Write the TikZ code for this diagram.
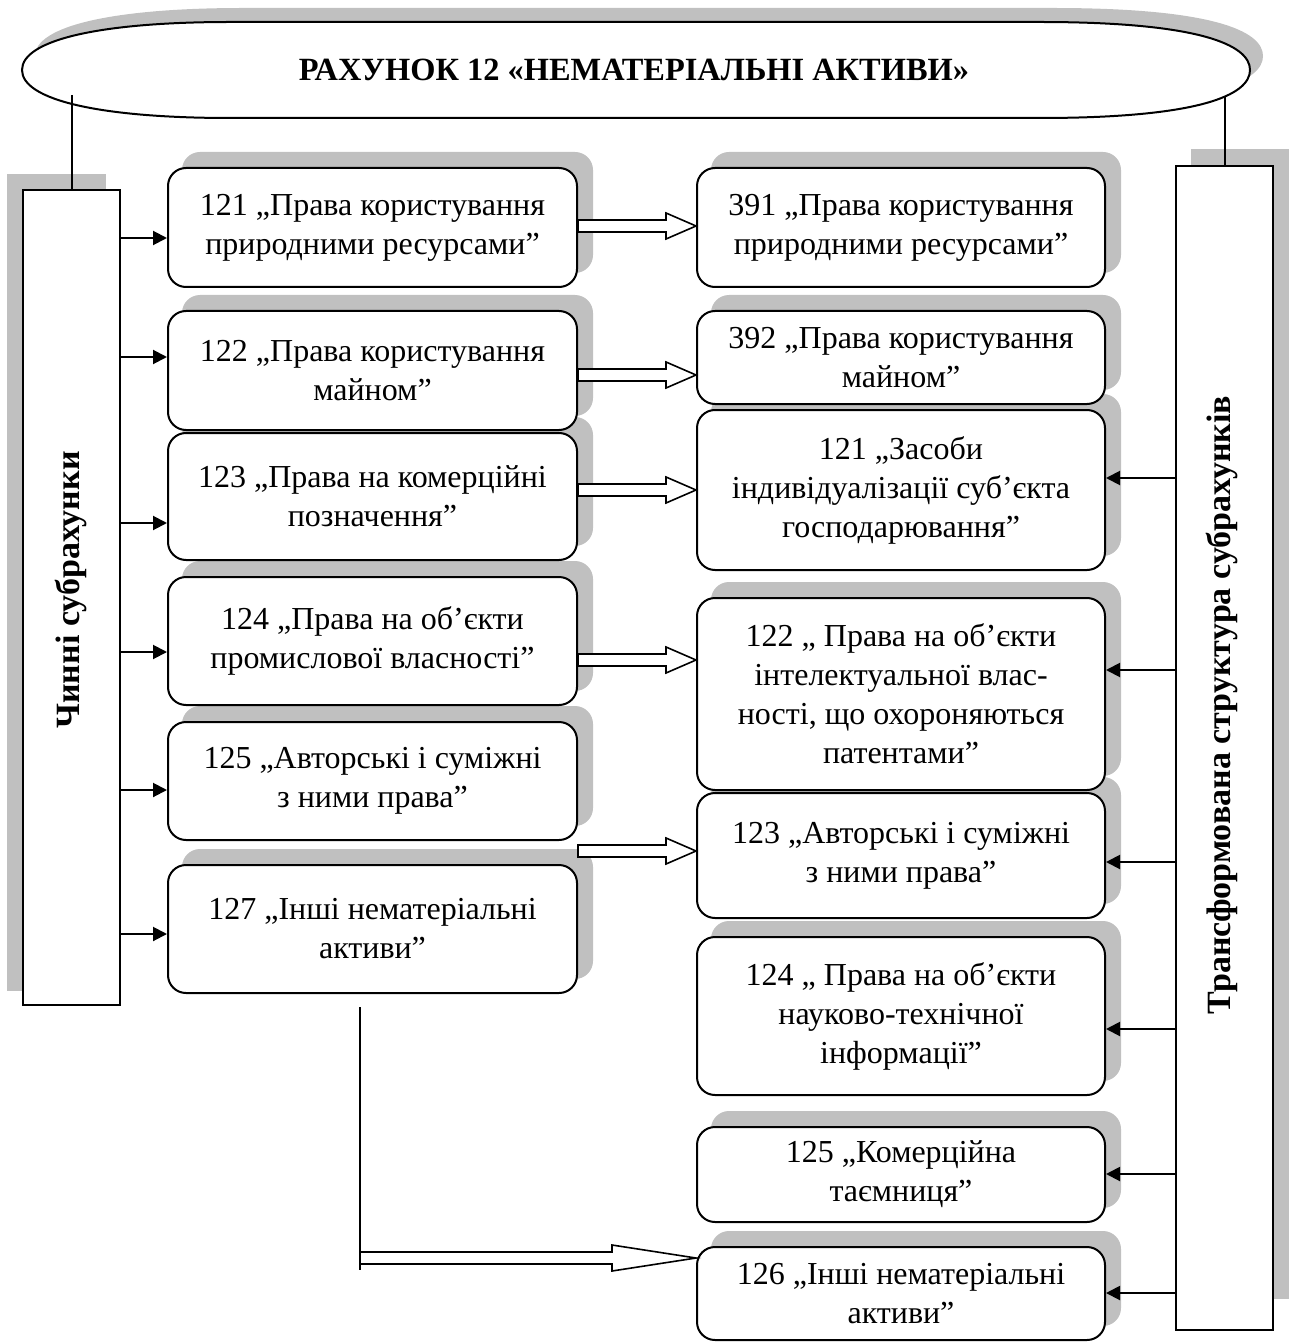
\documentclass[tikz,border=0pt]{standalone}
\usepackage{fontspec}
\setmainfont{Liberation Serif}
\usetikzlibrary{arrows.meta,calc,backgrounds}
\definecolor{shd}{RGB}{192,192,192}
\newcommand\harrow[3]{%
  \draw[hol] ($(#1)+(0,-6)$) -- ($(#2)+(-#3,-6)$) -- ($(#2)+(-#3,-13)$) -- (#2)
    -- ($(#2)+(-#3,13)$) -- ($(#2)+(-#3,6)$) -- ($(#1)+(0,6)$) -- cycle;}
\begin{document}
\begin{tikzpicture}[x=0.5pt,y=-0.5pt,
  box/.style={draw, line width=1pt, fill=white, rounded corners=9pt, align=center,
    inner sep=0pt, font=\fontsize{16}{19.5}\selectfont},
  side/.style={draw, line width=1pt, fill=white, inner sep=0pt},
  sidelabel/.style={font=\fontsize{17}{20}\selectfont\bfseries, rotate=90},
  blk/.style={line width=1pt, -{Triangle[length=7pt,width=7pt]}},
  hol/.style={line width=0.8pt, fill=white},
  ln/.style={line width=1pt}]
\useasboundingbox (0,0) rectangle (1294,1342);
% title shape
\fill[shd] (35,56) .. controls (35,26) and (113,8) .. (243,8) -- (1053,8)
  .. controls (1213,8) and (1263,31) .. (1263,56) .. controls (1263,81) and (1213,104) .. (1053,104)
  -- (243,104) .. controls (113,104) and (35,86) .. (35,56) -- cycle;
\draw[line width=1pt, fill=white] (22,70) .. controls (22,40) and (100,22) .. (230,22) -- (1040,22)
  .. controls (1200,22) and (1250,45) .. (1250,70) .. controls (1250,95) and (1200,118) .. (1040,118)
  -- (230,118) .. controls (100,118) and (22,100) .. (22,70) -- cycle;
\node[font=\fontsize{16.2}{19}\selectfont\bfseries] (title) at (634,70) {РАХУНОК 12 «НЕМАТЕРІАЛЬНІ АКТИВИ»};

% side boxes
\node[side, minimum width=48.5pt, minimum height=407.5pt] (L) at (71.5,597.5) {};
\node[side, minimum width=48.5pt, minimum height=582pt] (R) at (1224.5,748) {};
\node[sidelabel] (Lt) at (71,590) {Чинні субрахунки};
\node[sidelabel] (Rt) at (1222,705) {Трансформована структура субрахунків};

% left column
\node[box, minimum width=204.5pt, minimum height=59.5pt] (L1) at (372.5,227.5) {121 „Права користування\\природними ресурсами”};
\node[box, minimum width=204.5pt, minimum height=59.5pt] (L2) at (372.5,370.5) {122 „Права користування\\майном”};
\node[box, minimum width=204.5pt, minimum height=63.5pt] (L3) at (372.5,496.5) {123 „Права на комерційні\\позначення”};
\node[box, minimum width=204.5pt, minimum height=64pt] (L4) at (372.5,641) {124 „Права на об’єкти\\промислової власності”};
\node[box, minimum width=204.5pt, minimum height=59pt] (L5) at (372.5,781) {125 „Авторські і суміжні\\з ними права”};
\node[box, minimum width=204.5pt, minimum height=64pt] (L6) at (372.5,929) {127 „Інші нематеріальні\\активи”};

% right column
\node[box, minimum width=204pt, minimum height=59.5pt] (R1) at (901,227.5) {391 „Права користування\\природними ресурсами”};
\node[box, minimum width=204pt, minimum height=46.5pt] (R2) at (901,357.5) {392 „Права користування\\майном”};
\node[box, minimum width=204pt, minimum height=80pt] (R3) at (901,490) {121 „Засоби\\індивідуалізації суб’єкта\\господарювання”};
\node[box, minimum width=204pt, minimum height=96pt] (R4) at (901,694) {122 „ Права на об’єкти\\інтелектуальної влас-\\ності, що охороняються\\патентами”};
\node[box, minimum width=204pt, minimum height=62.5pt] (R5) at (901,855.5) {123 „Авторські і суміжні\\з ними права”};
\node[box, minimum width=204pt, minimum height=79pt] (R6) at (901,1016) {124 „ Права на об’єкти\\науково-технічної\\інформації”};
\node[box, minimum width=204pt, minimum height=47.5pt] (R7) at (901,1174.5) {125 „Комерційна\\таємниця”};
\node[box, minimum width=204pt, minimum height=46.5pt] (R8) at (901,1293.5) {126 „Інші нематеріальні\\активи”};

% shadows
\begin{scope}[on background layer]
  \foreach \n in {L1,L2,L3,L4,L5,L6,R1,R2,R3,R4,R5,R6,R7,R8}
    \fill[shd, rounded corners=9pt] ([shift={(15,-15)}]\n.south west) rectangle ([shift={(15,-15)}]\n.north east);
  \fill[shd] ([shift={(-15,-15)}]L.south west) rectangle ([shift={(-15,-15)}]L.north east);
  \fill[shd] ([shift={(16,-32)}]R.south west) rectangle ([shift={(15,-16)}]R.north east);
\end{scope}

% connectors from title
\coordinate (eL) at (72,95);
\coordinate (eR) at (1224,96);
\draw[ln] (L.north |- eL) -- (L.north);
\draw[ln] (R.north |- eR) -- (R.north);

% left black arrows
\foreach \n/\yy in {L1/238,L2/357,L3/523,L4/652,L5/790,L6/934}{
  \coordinate (y\n) at (0,\yy);
  \draw[blk] (L.east |- y\n) -- (\n.west |- y\n);
}
% right black arrows
\foreach \n/\yy in {R3/478,R4/670,R5/862,R6/1029,R7/1174,R8/1293}{
  \coordinate (y\n) at (0,\yy);
  \draw[blk] (R.west |- y\n) -- (\n.east |- y\n);
}

% hollow arrows
\coordinate (h1) at (0,226);
\coordinate (h2) at (0,375);
\coordinate (h3) at (0,490);
\coordinate (h4) at (0,660);
\coordinate (h5) at (0,851);
\coordinate (a1s) at (L1.east |- h1); \coordinate (a1e) at (R1.west |- h1);
\coordinate (a2s) at (L2.east |- h2); \coordinate (a2e) at (R2.west |- h2);
\coordinate (a3s) at (L3.east |- h3); \coordinate (a3e) at (R3.west |- h3);
\coordinate (a4s) at (L4.east |- h4); \coordinate (a4e) at (R4.west |- h4);
\coordinate (a5s) at (L5.east |- h5); \coordinate (a5e) at (R5.west |- h5);
\harrow{a1s}{a1e}{30}
\harrow{a2s}{a2e}{30}
\harrow{a3s}{a3e}{30}
\harrow{a4s}{a4e}{30}
\harrow{a5s}{a5e}{30}

% bottom arrow
\coordinate (bv) at (360,1007);
\coordinate (bb) at (360,1270);
\coordinate (hb) at (0,1258);
\coordinate (bs) at (bv |- hb);
\coordinate (be) at (R8.west |- hb);
\draw[ln] (bv) -- (bb);
\harrow{bs}{be}{84}
\end{tikzpicture}
\end{document}
